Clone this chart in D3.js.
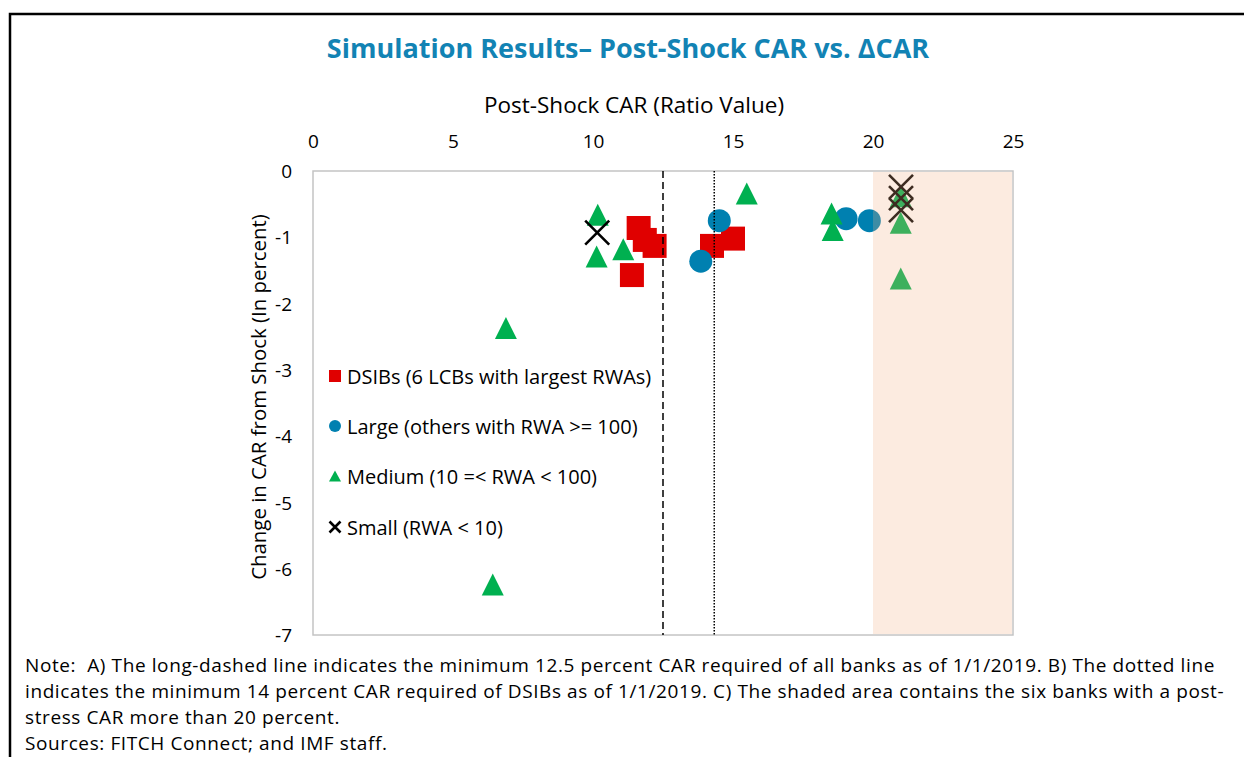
<!DOCTYPE html>
<html>
<head>
<style>
body { margin: 0; background: #fff; }
text { font-family: "Open Sans", sans-serif; fill: #000; white-space: pre; }
</style>
</head>
<body>
<svg id="chart" width="1244" height="757"></svg>
<script src="https://cdn.jsdelivr.net/npm/d3@7/dist/d3.min.js"></script>
<script>
    // series values: [post-shock CAR, change in CAR]
    const dsibs  = [[11.63, -0.86], [11.85, -1.04], [12.2, -1.13], [11.39, -1.57], [14.25, -1.13], [15.0, -1.02]];
    const large  = [[14.51, -0.75], [13.85, -1.36], [19.04, -0.72], [19.87, -0.75]];
    const medium = [[10.17, -0.66], [10.13, -1.29], [11.08, -1.18], [15.49, -0.34], [6.89, -2.37], [6.42, -6.24],
                    [18.52, -0.64], [18.56, -0.89], [20.99, -0.38], [20.99, -0.78], [20.99, -1.62]];
    const small  = [[10.15, -0.93], [21.0, -0.24], [21.0, -0.41], [21.0, -0.59]];

    const series_names = ["DSIBs (6 LCBs with largest RWAs)", "Large (others with RWA >= 100)",
                          "Medium (10 =< RWA < 100)", "Small (RWA < 10)"];
    const x_ticks = [0, 5, 10, 15, 20, 25];
    const y_ticks = [0, -1, -2, -3, -4, -5, -6, -7];
    const min_car_all = 12.5;     // long-dashed line
    const min_car_dsib = 14.33;   // dotted line (as drawn)
    const shade_range = [20, 25];

    const note_lines = [
        "Note:  A) The long-dashed line indicates the minimum 12.5 percent CAR required of all banks as of 1/1/2019. B) The dotted line",
        "indicates the minimum 14 percent CAR required of DSIBs as of 1/1/2019. C) The shaded area contains the six banks with a post-",
        "stress CAR more than 20 percent.",
        "Sources: FITCH Connect; and IMF staff."
    ];

    const svg = d3.select("#chart");
    const plot = {left: 313, top: 171, right: 1013, bottom: 635};

    const x = d3.scaleLinear().domain([0, 25]).range([plot.left, plot.right]);
    const y = d3.scaleLinear().domain([-7, 0]).range([plot.bottom, plot.top]);

    // outer frame
    svg.append("path")
        .attr("d", "M10,1000 L10,14 L1300,14")
        .style("fill", "none")
        .style("stroke", "#000")
        .style("stroke-width", 2.5);

    svg.append("text")
        .attr("x", 628).attr("y", 47)
        .attr("text-anchor", "middle")
        .attr("dominant-baseline", "central")
        .attr("font-size", "27px")
        .attr("font-weight", "bold")
        .style("fill", "#1283b4")
        .text("Simulation Results\u2013 Post-Shock CAR vs. \u0394CAR");

    // axes
    const xAxis = svg.append("g")
        .attr("transform", "translate(0," + plot.top + ")")
        .call(d3.axisTop(x).tickValues(x_ticks).tickSize(0).tickPadding(23));
    const yAxis = svg.append("g")
        .attr("transform", "translate(" + plot.left + ",0)")
        .call(d3.axisLeft(y).tickValues(y_ticks).tickSize(0).tickPadding(21).tickFormat(d => d === 0 ? "0" : "-" + Math.abs(d)));
    [xAxis, yAxis].forEach(a => {
        a.select(".domain").remove();
        a.selectAll("text").attr("font-size", "19px").style("font-family", "Open Sans");
    });
    yAxis.selectAll("text").attr("dy", "0.35em");

    svg.append("text")
        .attr("x", 634).attr("y", 104)
        .attr("text-anchor", "middle")
        .attr("dominant-baseline", "central")
        .attr("font-size", "22.5px")
        .text("Post-Shock CAR (Ratio Value)");

    svg.append("text")
        .attr("transform", "translate(258,397) rotate(-90)")
        .attr("text-anchor", "middle")
        .attr("dominant-baseline", "central")
        .attr("font-size", "20.4px")
        .text("Change in CAR from Shock (In percent)");

    // plot border
    svg.append("rect")
        .attr("x", plot.left).attr("y", plot.top)
        .attr("width", plot.right - plot.left).attr("height", plot.bottom - plot.top)
        .style("fill", "none")
        .style("stroke", "#c4c4c4")
        .style("stroke-width", 1.5);

    // marker shapes (centred on their bounding box)
    function squarePath(cx, cy, s) {
        return "M" + (cx - s/2) + "," + (cy - s/2) + "h" + s + "v" + s + "h" + (-s) + "Z";
    }
    function trianglePath(cx, cy, w, h) {
        return "M" + cx + "," + (cy - h/2) + "L" + (cx + w/2) + "," + (cy + h/2) + "L" + (cx - w/2) + "," + (cy + h/2) + "Z";
    }
    function crossPath(cx, cy, s) {
        return "M" + (cx - s/2) + "," + (cy - s/2) + "L" + (cx + s/2) + "," + (cy + s/2) +
               "M" + (cx + s/2) + "," + (cy - s/2) + "L" + (cx - s/2) + "," + (cy + s/2);
    }

    const marks = svg.append("g");
    marks.selectAll("path.dsib").data(dsibs).enter().append("path")
        .attr("class", "dsib")
        .attr("d", d => squarePath(x(d[0]), y(d[1]), 24))
        .style("fill", "#e00000");
    marks.selectAll("circle.large").data(large).enter().append("circle")
        .attr("class", "large")
        .attr("cx", d => x(d[0])).attr("cy", d => y(d[1])).attr("r", 11.5)
        .style("fill", "#0080b0");
    marks.selectAll("path.medium").data(medium).enter().append("path")
        .attr("class", "medium")
        .attr("d", d => trianglePath(x(d[0]), y(d[1]), 22, 22))
        .style("fill", "#00b050");
    marks.selectAll("path.small").data(small).enter().append("path")
        .attr("class", "small")
        .attr("d", d => crossPath(x(d[0]), y(d[1]), 24))
        .style("fill", "none")
        .style("stroke", "#000")
        .style("stroke-width", 2.6);

    // shaded area sits on top of the markers
    svg.append("rect")
        .attr("x", x(shade_range[0])).attr("y", plot.top + 1)
        .attr("width", x(shade_range[1]) - x(shade_range[0]) - 1)
        .attr("height", plot.bottom - plot.top - 2)
        .style("fill", "#f4b183")
        .style("opacity", 0.25);

    svg.append("line")
        .attr("x1", x(min_car_all)).attr("x2", x(min_car_all))
        .attr("y1", plot.top).attr("y2", plot.bottom)
        .style("stroke", "#000").style("stroke-width", 1.5)
        .style("stroke-dasharray", "7,4");
    svg.append("line")
        .attr("x1", x(min_car_dsib)).attr("x2", x(min_car_dsib))
        .attr("y1", plot.top).attr("y2", plot.bottom)
        .style("stroke", "#000").style("stroke-width", 1.5)
        .style("stroke-dasharray", "1.5,1.5");

    // legend
    const legend = svg.append("g");
    const leg_y = [376, 426, 476, 527];
    const lx = 335;
    legend.append("path").attr("d", squarePath(lx, leg_y[0], 12)).style("fill", "#e00000");
    legend.append("circle").attr("cx", lx).attr("cy", leg_y[1]).attr("r", 6).style("fill", "#0080b0");
    legend.append("path").attr("d", trianglePath(lx, leg_y[2], 12, 11)).style("fill", "#00b050");
    legend.append("path").attr("d", crossPath(lx, leg_y[3], 11)).style("stroke", "#000").style("stroke-width", 2.6);
    legend.selectAll("text").data(series_names).enter().append("text")
        .attr("x", 347).attr("y", (d, i) => leg_y[i])
        .attr("dominant-baseline", "central")
        .attr("font-size", "20px")
        .text(d => d);

    // note
    const note_y = [665, 691, 717, 743];
    svg.selectAll("text.note").data(note_lines).enter().append("text")
        .attr("class", "note")
        .attr("x", 25).attr("y", (d, i) => note_y[i])
        .attr("dominant-baseline", "central")
        .attr("font-size", "19px")
        .style("letter-spacing", "0.6px")
        .text(d => d);
</script>
</body>
</html>
